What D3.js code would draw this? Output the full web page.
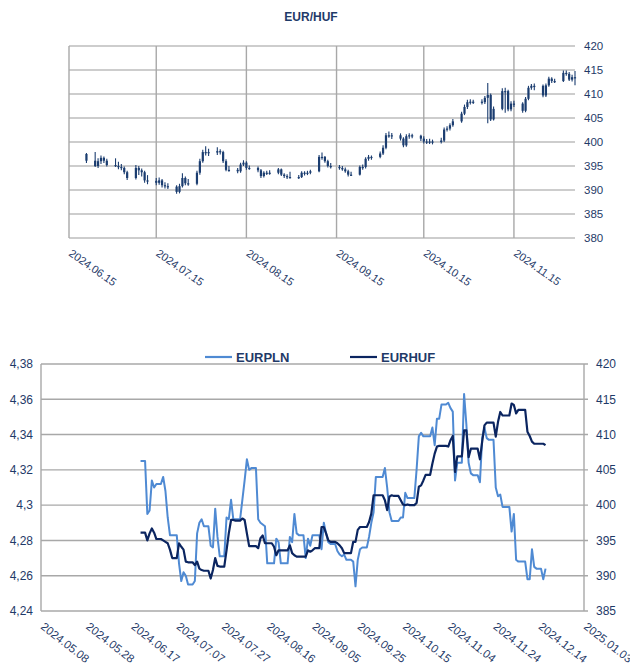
<!DOCTYPE html>
<html><head><meta charset="utf-8">
<script src="https://cdn.jsdelivr.net/npm/d3@7"></script>
<style>
body{margin:0;background:#fff}
svg{display:block;font-family:"Liberation Sans",Arial,sans-serif}
</style>
</head><body>
<svg id="c" width="630" height="671"></svg>
<script>
// ---------------- DATA ----------------
const dates = [
"2024-06-21",
"2024-06-24","2024-06-25","2024-06-26","2024-06-27","2024-06-28",
"2024-07-01","2024-07-02","2024-07-03","2024-07-04","2024-07-05",
"2024-07-08","2024-07-09","2024-07-10","2024-07-11","2024-07-12",
"2024-07-15","2024-07-16","2024-07-17","2024-07-18","2024-07-19",
"2024-07-22","2024-07-23","2024-07-24","2024-07-25","2024-07-26",
"2024-07-29","2024-07-30","2024-07-31","2024-08-01","2024-08-02",
"2024-08-05","2024-08-06","2024-08-07","2024-08-08","2024-08-09",
"2024-08-12","2024-08-13","2024-08-14","2024-08-15","2024-08-16",
"2024-08-19","2024-08-20","2024-08-21","2024-08-22","2024-08-23",
"2024-08-26","2024-08-27","2024-08-28","2024-08-29","2024-08-30",
"2024-09-02","2024-09-03","2024-09-04","2024-09-05","2024-09-06",
"2024-09-09","2024-09-10","2024-09-11","2024-09-12","2024-09-13",
"2024-09-16","2024-09-17","2024-09-18","2024-09-19","2024-09-20",
"2024-09-23","2024-09-24","2024-09-25","2024-09-26","2024-09-27",
"2024-09-30","2024-10-01","2024-10-02","2024-10-03","2024-10-04",
"2024-10-07","2024-10-08","2024-10-09","2024-10-10","2024-10-11",
"2024-10-14","2024-10-15","2024-10-16","2024-10-17","2024-10-18",
"2024-10-21","2024-10-22","2024-10-23","2024-10-24","2024-10-25",
"2024-10-28","2024-10-29","2024-10-30","2024-10-31","2024-11-01",
"2024-11-04","2024-11-05","2024-11-06","2024-11-07","2024-11-08",
"2024-11-11","2024-11-12","2024-11-13","2024-11-14","2024-11-15",
"2024-11-18","2024-11-19","2024-11-20","2024-11-21","2024-11-22",
"2024-11-25","2024-11-26","2024-11-27","2024-11-28","2024-11-29",
"2024-12-02","2024-12-03","2024-12-04","2024-12-05","2024-12-06",
"2024-12-09","2024-12-10","2024-12-11","2024-12-12","2024-12-13",
"2024-12-16","2024-12-17"
];

const eurpln = [
4.325,
4.295,4.297,4.314,4.310,4.312,
4.316,4.308,4.293,4.283,4.283,
4.267,4.257,4.262,4.260,4.255,
4.257,4.284,4.290,4.292,4.288,
4.277,4.276,4.298,4.282,4.271,
4.293,4.292,4.303,4.292,4.292,
4.303,4.314,4.326,4.320,4.321,
4.292,4.290,4.289,4.288,4.267,
4.267,4.281,4.279,4.267,4.267,
4.282,4.279,4.295,4.284,4.283,
4.270,4.281,4.277,4.283,4.283,
4.275,4.290,4.284,4.279,4.278,
4.274,4.272,4.271,4.272,4.269,
4.268,4.254,4.269,4.275,4.276,
4.282,4.290,4.296,4.316,4.316,
4.321,4.310,4.296,4.291,4.291,
4.293,4.293,4.307,4.304,4.304,
4.320,4.339,4.341,4.339,4.339,
4.344,4.334,4.349,4.349,4.357,
4.358,4.355,4.353,4.314,4.324,
4.363,4.346,4.324,4.318,4.317,
4.313,4.338,4.344,4.338,4.337,
4.310,4.305,4.306,4.299,4.299,
4.285,4.295,4.269,4.268,4.268,
4.258,4.258,4.275,4.265,4.264,
4.258,4.264
];

const eurhuf = [
396.1,
395.0,396.0,396.7,396.1,395.2,
395.0,394.8,394.6,393.7,392.5,
394.6,394.1,393.7,392.0,391.9,
391.5,392.0,391.0,390.8,390.7,
389.6,390.8,392.5,391.4,391.3,
393.6,396.0,397.9,397.9,397.8,
398.1,397.9,396.0,394.2,394.2,
393.9,395.3,395.7,394.6,394.6,
394.1,392.9,393.6,393.6,393.6,
394.3,393.2,392.9,392.7,392.7,
392.7,393.6,393.4,393.6,393.9,
396.9,396.9,396.0,395.0,394.8,
394.6,394.3,393.9,393.2,393.2,
394.8,394.8,396.5,396.9,396.9,
397.6,398.8,401.4,401.4,401.4,
400.7,399.3,401.2,401.4,401.3,
400.7,400.1,400.0,400.1,400.0,
400.3,402.6,402.8,403.5,404.3,
405.9,407.3,408.3,408.4,408.4,
408.3,409.2,409.8,404.7,406.9,
410.6,410.6,406.8,408.0,408.0,
406.5,409.0,411.3,411.7,411.7,
409.7,411.8,413.2,412.7,412.7,
414.4,414.2,413.0,413.5,413.5,
410.4,409.8,409.0,408.7,408.7,
408.7,408.5
];

// EUR/HUF daily candles (first 121 trading days of `dates`)
const candleOpen = [
397.5,
396.1,395.0,396.0,396.7,396.1,
395.2,395.0,394.8,394.6,393.7,
392.5,394.6,394.1,393.7,392.0,
391.9,391.5,392.0,391.0,390.8,
390.7,389.6,390.8,392.5,391.4,
391.3,393.6,396.0,397.9,397.9,
397.8,398.1,397.9,396.0,394.2,
394.2,393.9,395.3,395.7,394.6,
394.6,394.1,392.9,393.6,393.6,
393.6,394.3,393.2,392.9,392.7,
392.7,392.7,393.6,393.4,393.6,
393.9,396.9,396.9,396.0,395.0,
394.8,394.6,394.3,393.9,393.2,
393.2,394.8,394.8,396.5,396.9,
396.9,397.6,398.8,401.4,401.4,
401.4,400.7,399.3,401.2,401.4,
401.3,400.7,400.1,400.0,400.1,
400.0,400.3,402.6,402.8,403.5,
404.3,405.9,407.3,408.3,408.4,
408.4,408.3,409.2,409.8,404.7,
406.9,410.6,410.6,406.8,408.0,
408.0,406.5,409.0,411.3,411.7,
411.7,409.7,411.8,413.2,412.7,
412.7,414.4,414.2,413.0,413.5
];
const candleHigh = [
397.7,
397.9,396.6,397.2,397.0,396.5,
396.6,395.9,395.4,394.9,394.0,
395.2,395.0,394.5,394.0,393.1,
392.5,392.6,392.3,391.6,391.4,
391.0,391.3,393.5,392.8,392.3,
394.0,396.5,398.4,399.1,398.6,
398.9,398.5,398.2,396.4,395.0,
394.6,395.7,396.2,396.0,395.1,
394.9,394.4,393.9,394.0,394.1,
394.6,394.5,393.5,393.3,393.8,
393.1,393.9,393.9,394.0,394.2,
397.3,397.8,397.1,396.3,395.6,
395.2,395.0,394.7,394.2,393.8,
395.1,395.3,396.8,397.3,397.2,
398.0,399.3,401.9,402.2,401.9,
401.8,401.0,401.6,401.8,401.7,
401.5,401.2,400.6,400.7,400.5,
400.9,403.0,403.3,403.9,404.8,
406.3,407.8,408.8,408.9,408.8,
408.9,409.6,412.3,410.1,407.4,
411.2,411.3,410.9,408.5,408.6,
408.3,409.4,411.7,412.1,412.2,
412.0,412.2,413.6,413.5,413.2,
414.9,414.9,414.6,414.0,414.8
];
const candleLow = [
395.6,
394.8,394.6,395.4,395.6,394.9,
394.8,394.3,394.1,393.3,392.1,
392.2,393.1,392.8,391.5,391.2,
391.0,391.1,390.5,390.3,390.2,
389.2,389.3,390.5,391.0,390.9,
391.0,393.2,395.7,397.2,397.1,
397.3,397.4,395.6,393.9,393.8,
393.5,393.6,395.0,394.2,394.2,
393.7,392.5,392.6,393.1,393.2,
393.3,392.9,392.5,392.3,392.4,
392.3,392.5,393.0,393.1,393.3,
393.7,396.3,395.7,394.7,394.5,
394.2,394.0,393.6,392.8,392.9,
393.0,394.2,394.5,396.1,396.3,
396.6,397.3,398.5,400.9,400.6,
400.3,398.9,399.0,400.7,400.8,
400.2,399.7,399.6,399.6,399.5,
399.7,400.0,402.2,402.4,403.2,
404.0,405.6,406.9,407.8,407.9,
407.8,407.9,403.9,404.4,404.5,
406.6,406.1,406.4,406.4,407.3,
406.1,406.2,408.7,410.9,410.8,
409.3,409.4,411.5,412.3,412.3,
412.5,413.8,412.7,412.6,411.8
];
const candleClose = eurhuf.slice(0, 121);

const topYTicks = [380, 385, 390, 395, 400, 405, 410, 415, 420];
const topXTicks = ["2024-06-15","2024-07-15","2024-08-15","2024-09-15","2024-10-15","2024-11-15"];
const leftTicks = [4.24, 4.26, 4.28, 4.30, 4.32, 4.34, 4.36, 4.38];
const rightTicks = [385, 390, 395, 400, 405, 410, 415, 420];
const bottomXTicks = ["2024-05-08","2024-05-28","2024-06-17","2024-07-07","2024-07-27","2024-08-16",
  "2024-09-05","2024-09-25","2024-10-15","2024-11-04","2024-11-24","2024-12-14","2025-01-03"];

// ---------------- RENDER ----------------
const parse = d3.utcParse("%Y-%m-%d");
const fmtDate = d3.utcFormat("%Y.%m.%d");
const svg = d3.select("#c");
const TEXT = "#1f3a68";
const GRID = "#bdbdbd";
const VGRID = "#a8a8a8";

// ---- Top chart ----
const xT = d3.scaleUtc().domain([parse("2024-06-15"), parse("2024-12-06")]).range([69, 575]);
const yT = d3.scaleLinear().domain([380, 420]).range([238, 46]);
const gT = svg.append("g");

gT.append("text").attr("x", 311).attr("y", 21).attr("text-anchor", "middle")
  .attr("font-size", 12).attr("font-weight", "bold").attr("fill", TEXT).text("EUR/HUF");

gT.selectAll("line.hg").data(topYTicks).join("line")
  .attr("x1", 69).attr("x2", 575)
  .attr("y1", d => yT(d)).attr("y2", d => yT(d))
  .attr("stroke", GRID).attr("stroke-width", 1.6);

gT.selectAll("line.vg").data(topXTicks).join("line")
  .attr("x1", d => xT(parse(d))).attr("x2", d => xT(parse(d)))
  .attr("y1", yT(420)).attr("y2", yT(380))
  .attr("stroke", VGRID).attr("stroke-width", 1.4);

const axT = gT.append("g").attr("transform", "translate(582,0)")
  .call(d3.axisRight(yT).tickValues(topYTicks).tickSize(0).tickPadding(2));
axT.select(".domain").remove();
axT.selectAll("text").attr("font-size", 11.5).attr("fill", TEXT)
  .attr("font-family", '"Liberation Sans",Arial,sans-serif');

gT.selectAll("text.xl").data(topXTicks).join("text")
  .attr("transform", d => `translate(${xT(parse(d)) - 1},255) rotate(35)`)
  .attr("font-size", 11).attr("fill", TEXT).text(d => fmtDate(parse(d)));

const CANDLE = "#1b3d70";
const candles = candleClose.map((c, i) => ({d: parse(dates[i]), o: candleOpen[i], h: candleHigh[i], l: candleLow[i], c}));
gT.selectAll("line.wick").data(candles).join("line")
  .attr("x1", d => xT(d.d)).attr("x2", d => xT(d.d))
  .attr("y1", d => yT(d.h)).attr("y2", d => yT(d.l))
  .attr("stroke", CANDLE).attr("stroke-width", 1.1);
gT.selectAll("rect.body").data(candles).join("rect")
  .attr("x", d => xT(d.d) - 1.1).attr("width", 2.2)
  .attr("y", d => yT(Math.max(d.o, d.c)))
  .attr("height", d => Math.max(1.2, Math.abs(yT(d.o) - yT(d.c))))
  .attr("fill", CANDLE);

// ---- Bottom chart ----
const xB = d3.scaleUtc().domain([parse("2024-05-08"), parse("2025-01-03")]).range([41, 584]);
const yL = d3.scaleLinear().domain([4.24, 4.38]).range([611, 364]);
const yR = d3.scaleLinear().domain([385, 420]).range([611, 364]);
const gB = svg.append("g");

gB.selectAll("line.hg").data(leftTicks.slice(1)).join("line")
  .attr("x1", 41).attr("x2", 588)
  .attr("y1", d => yL(d)).attr("y2", d => yL(d))
  .attr("stroke", VGRID).attr("stroke-width", 1.4);
gB.append("line").attr("x1", 41).attr("x2", 41).attr("y1", 364).attr("y2", 611).attr("stroke", VGRID).attr("stroke-width", 1.4);
gB.append("line").attr("x1", 584).attr("x2", 584).attr("y1", 364).attr("y2", 611).attr("stroke", VGRID).attr("stroke-width", 1.4);
gB.append("line").attr("x1", 41).attr("x2", 588).attr("y1", 611).attr("y2", 611).attr("stroke", VGRID).attr("stroke-width", 1.4);

const leftFmt = d => d3.format(".2f")(d).replace(/0$/, "").replace(".", ",");
const axL = gB.append("g").attr("transform", "translate(41,0)")
  .call(d3.axisLeft(yL).tickValues(leftTicks).tickFormat(leftFmt).tickSize(0).tickPadding(8));
axL.select(".domain").remove();
const axR = gB.append("g").attr("transform", "translate(584,0)")
  .call(d3.axisRight(yR).tickValues(rightTicks).tickSize(0).tickPadding(12));
axR.select(".domain").remove();
gB.selectAll(".tick text").attr("font-size", 12).attr("fill", TEXT)
  .attr("font-family", '"Liberation Sans",Arial,sans-serif');

gB.selectAll("text.xl").data(bottomXTicks).join("text")
  .attr("transform", d => `translate(${xB(parse(d)) - 1},628) rotate(38)`)
  .attr("font-size", 11.5).attr("fill", TEXT).text(d => fmtDate(parse(d)));

// series: hold last value over non-trading days (as the source chart does)
function withHold(vals) {
  const pts = [];
  vals.forEach((v, i) => {
    const d = parse(dates[i]);
    if (i > 0) {
      const prev = parse(dates[i - 1]);
      const gap = d3.utcDay.count(prev, d);
      if (gap > 1) pts.push({d: d3.utcDay.offset(d, -1), v: vals[i - 1]});
    }
    pts.push({d, v});
  });
  return pts;
}
const PLN = "#4f8ad3", HUF = "#0b2560";
gB.append("path").datum(withHold(eurpln))
  .attr("fill", "none").attr("stroke", PLN).attr("stroke-width", 2).attr("stroke-linejoin", "round")
  .attr("d", d3.line().x(p => xB(p.d)).y(p => yL(p.v)));
gB.append("path").datum(withHold(eurhuf))
  .attr("fill", "none").attr("stroke", HUF).attr("stroke-width", 2.2).attr("stroke-linejoin", "round")
  .attr("d", d3.line().x(p => xB(p.d)).y(p => yR(p.v)));

// legend
const legend = [{name: "EURPLN", color: PLN, x: 205}, {name: "EURHUF", color: HUF, x: 350}];
const lg = gB.selectAll("g.lg").data(legend).join("g");
lg.append("line").attr("x1", d => d.x).attr("x2", d => d.x + 27).attr("y1", 357).attr("y2", 357)
  .attr("stroke", d => d.color).attr("stroke-width", 2.2);
lg.append("text").attr("x", d => d.x + 31).attr("y", 362).attr("font-size", 13).attr("font-weight", "bold")
  .attr("fill", TEXT).text(d => d.name);
</script>
</body></html>
